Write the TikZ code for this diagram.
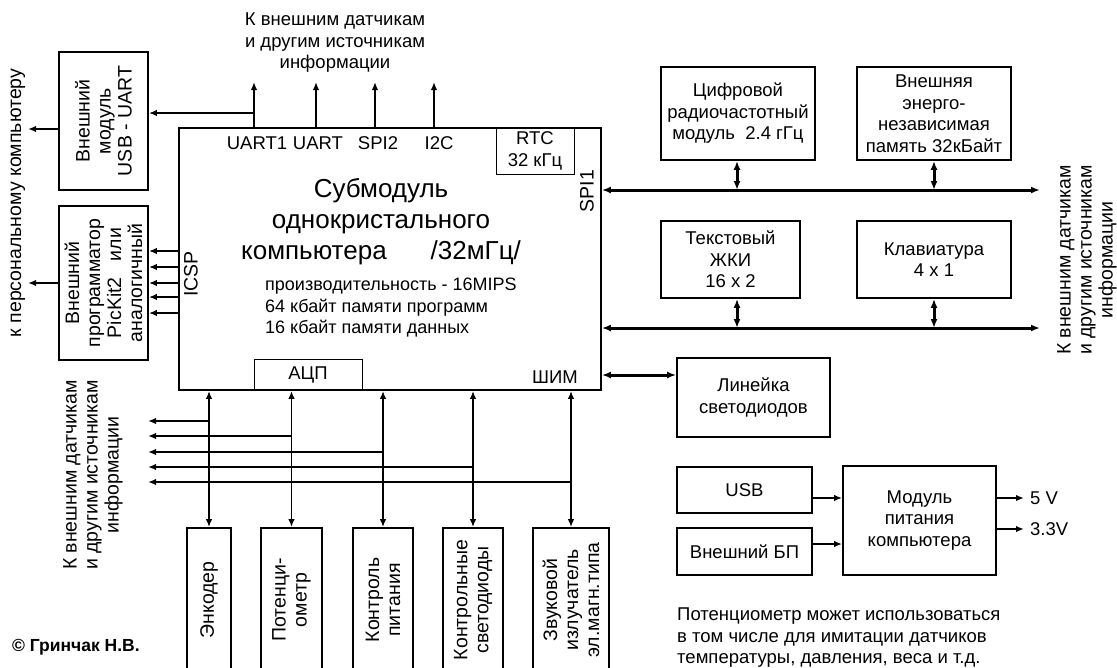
\documentclass[tikz,border=0pt]{standalone}
\usepackage{fontspec}
\setmainfont{Liberation Sans}
\usetikzlibrary{arrows.meta, positioning}

\tikzset{
  blk/.style={draw, line width=1.8pt, align=center, inner sep=0pt},
  inblk/.style={draw, line width=0.8pt, align=center, inner sep=0pt},
  lbl/.style={align=center, inner sep=0pt},
  vlbl/.style={align=center, inner sep=0pt, rotate=90, font=\fontsize{19.5}{21}\selectfont},
  sig/.style={line width=1.8pt, -{Latex[length=8pt,width=6.5pt]}},
  sigboth/.style={line width=1.8pt, {Latex[length=8pt,width=6.5pt]}-{Latex[length=8pt,width=6.5pt]}},
  bus/.style={line width=3pt, {Latex[length=9pt,width=7pt]}-{Latex[length=9pt,width=7pt]}},
}

\begin{document}
\begin{tikzpicture}[x=1pt, y=-1pt, font=\fontsize{18.5}{21.5}\selectfont]
\useasboundingbox (0,0) rectangle (1117,667);

% submodule
\node[blk, minimum width=422pt, minimum height=262pt] (main) at (390,259) {};
\node[inblk, minimum width=78pt, minimum height=46pt] (rtc) at (535,151) {RTC\\32 кГц};
\node[inblk, minimum width=108pt, minimum height=31pt] (adc) at (308,374.5) {АЦП};

\node[lbl, font=\fontsize{26}{31}\selectfont] (title) at (381,222)
  {Субмодуль\\однокристального\\компьютера\hspace{44pt}/32мГц/};
\node[lbl, align=left, anchor=west, font=\fontsize{18}{21.5}\selectfont] (specs) at (265,308)
  {производительность - 16MIPS\\64 кбайт памяти программ\\16 кбайт памяти данных};

\node[lbl] (uart1) at (257,143) {UART1};
\node[lbl] (uart2) at (318,143) {UART};
\node[lbl] (spi2) at (378,143) {SPI2};
\node[lbl] (i2c) at (439,143) {I2C};
\node[vlbl] (icsp) at (191,274) {ICSP};
\node[vlbl] (spi1) at (587,191) {SPI1};
\node[lbl] (pwm) at (555,377) {ШИМ};

% left side
\node[blk, minimum width=89pt, minimum height=138pt,
  label={[vlbl]center:{Внешний\\модуль\\USB - UART}}] (usbuart) at (103.5,121) {};
\node[blk, minimum width=89pt, minimum height=154pt,
  label={[vlbl]center:{Внешний\\программатор\\PicKit2\ \ \ или\\аналогичный}}] (pickit) at (103.5,283) {};
\node[vlbl] (pc) at (18,203) {к персональному компьютеру};
\node[vlbl] (srcL) at (93,475) {К внешним датчикам\\и другим источникам\\информации};
\node[lbl] (srcT) at (335,43) {К внешним датчикам\\и другим источникам\\информации};

% right side
\node[blk, minimum width=154pt, minimum height=93pt] (radio) at (738,113.5)
  {Цифровой\\радиочастотный\\модуль\ \ 2.4 гГц};
\node[blk, minimum width=154pt, minimum height=93pt] (eeprom) at (934,113.5)
  {Внешняя\\энерго-\\независимая\\память 32кБайт};
\node[blk, minimum width=139pt, minimum height=77pt] (lcd) at (730.5,259.5)
  {Текстовый\\ЖКИ\\16 x 2};
\node[blk, minimum width=154pt, minimum height=77pt] (keys) at (934,259.5)
  {Клавиатура\\4 x 1};
\node[blk, minimum width=153pt, minimum height=79pt] (leds) at (753.5,397.5)
  {Линейка\\светодиодов};
\node[vlbl] (srcR) at (1087,260) {К внешним датчикам\\и другим источникам\\информации};

% power
\node[blk, minimum width=135pt, minimum height=46pt] (usb) at (744.5,490) {USB};
\node[blk, minimum width=135pt, minimum height=47pt] (extps) at (744.5,551.5) {Внешний БП};
\node[blk, minimum width=153pt, minimum height=109pt] (power) at (919.5,520.5)
  {Модуль\\питания\\компьютера};

% bottom row
\node[blk, minimum width=44pt, minimum height=144pt,
  label={[vlbl]center:Энкодер}] (enc) at (209,600) {};
\node[blk, minimum width=61pt, minimum height=144pt,
  label={[vlbl]center:{Потенци-\\ометр}}] (pot) at (291.5,600) {};
\node[blk, minimum width=60pt, minimum height=144pt,
  label={[vlbl]center:{Контроль\\питания}}] (pwrmon) at (383,600) {};
\node[blk, minimum width=60pt, minimum height=144pt,
  label={[vlbl]center:{Контрольные\\светодиоды}}] (ledsmon) at (473,600) {};
\node[blk, minimum width=76pt, minimum height=144pt,
  label={[vlbl]center:{Звуковой\\излучатель\\эл.магн.типа}}] (buzzer) at (571,600) {};

\node[lbl, align=left, anchor=west] (note) at (677,638)
  {Потенциометр может использоваться\\в том числе для имитации датчиков\\температуры, давления, веса и т.д.};
\node[lbl, anchor=west, font=\fontsize{17.5}{21.5}\selectfont\bfseries] (copy) at (12,647) {© Гринчак Н.В.};

% connectors
\coordinate (up1) at (254,82);
\coordinate (up2) at (316,82);
\coordinate (up3) at (375,82);
\coordinate (up4) at (434,82);
\foreach \c in {up1,up2,up3,up4}
  \draw[sig] (\c |- main.north) -- (\c);
\coordinate (j1) at (254,113);
\draw[sig] (j1) -- (j1 -| usbuart.east);

\coordinate (pc1) at (28,129);
\coordinate (pc2) at (28,283);
\draw[sig] (usbuart.west |- pc1) -- (pc1);
\draw[sig] (pickit.west |- pc2) -- (pc2);

\foreach \y in {251,267,283,297,313}
  \draw[sig] (main.west |- 0,\y) -- (pickit.east |- 0,\y);

\coordinate (bus1) at (1040,190);
\coordinate (bus2) at (1040,328);
\draw[bus] (main.east |- bus1) -- (bus1);
\draw[bus] (main.east |- bus2) -- (bus2);
\draw[bus] (radio.south -| 737,0) -- (bus1 -| 737,0);
\draw[bus] (eeprom.south) -- (eeprom.south |- bus1);
\draw[bus] (lcd.south -| 737,0) -- (bus2 -| 737,0);
\draw[bus] (keys.south) -- (keys.south |- bus2);
\draw[bus] (main.east |- 0,375) -- (leds.west |- 0,375);

\coordinate (ext) at (148,0);
\foreach \n/\y in {enc/421, pot/436, pwrmon/452, ledsmon/467, buzzer/482} {
  \draw[sigboth] (\n.north |- main.south) -- (\n.north);
  \draw[sig] (\n.north |- 0,\y) -- (ext |- 0,\y);
}

\draw[sig] (usb.east |- 0,498) -- (power.west |- 0,498);
\draw[sig] (extps.east |- 0,544) -- (power.west |- 0,544);
\node[lbl, anchor=west] (v5) at (1030,498) {5 V};
\node[lbl, anchor=west] (v33) at (1030,529) {3.3V};
\draw[sig, shorten >=6pt] (power.east |- v5) -- (v5.west);
\draw[sig, shorten >=6pt] (power.east |- v33) -- (v33.west);

\end{tikzpicture}
\end{document}
